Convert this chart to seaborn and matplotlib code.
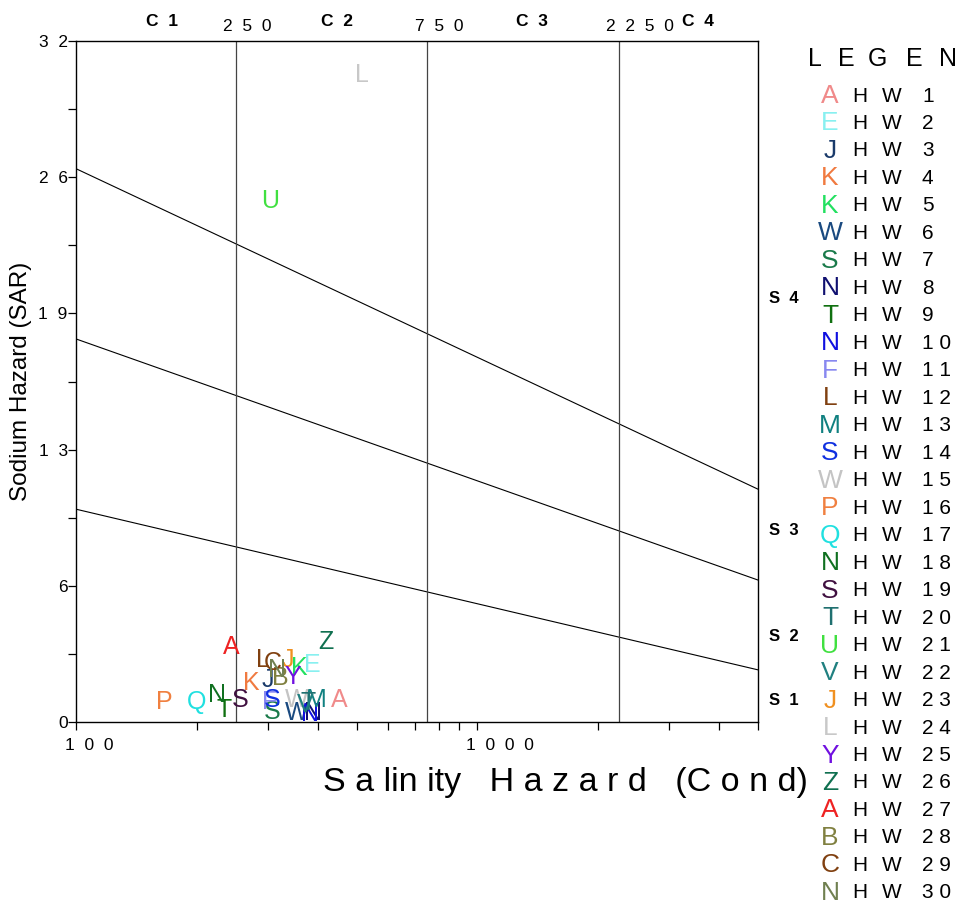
import numpy as np
import pandas as pd
import matplotlib
matplotlib.use("Agg")
import matplotlib.pyplot as plt
from matplotlib.ticker import FixedLocator, NullFormatter
import seaborn as sns

# samples HW1..HW30 : letter, colour, conductivity, SAR
letters = ["A", "E", "J", "K", "K", "W", "S", "N", "T", "N",
           "F", "L", "M", "S", "W", "P", "Q", "N", "S", "T",
           "U", "V", "J", "L", "Y", "Z", "A", "B", "C", "N"]
colors = ["#f08a8a", "#88f0f0", "#1a3a6a", "#f07a40", "#22e060", "#1a4a80",
          "#1a7a4a", "#101070", "#107010", "#1010e0", "#8888f0", "#804010",
          "#108080", "#1030e0", "#c4c4c4", "#f08040", "#20e0e0", "#107020",
          "#401040", "#207070", "#40e040", "#208080", "#f09020", "#c8c8c8",
          "#7010e0", "#107050", "#ee2222", "#808040", "#804010", "#708050"]
cond = [454, 387, 300, 274, 361, 355, 309, 389, 234, 383,
        304, 292, 398, 309, 355, 166, 200, 224, 256, 378,
        304, 372, 337, 516, 347, 419, 244, 322, 309, 316]
sar = [1.03, 2.68, 1.97, 1.83, 2.54, 0.42, 0.47, 0.42, 0.56, 0.38,
       0.94, 2.91, 1.03, 1.03, 1.03, 0.94, 0.94, 1.27, 1.03, 0.89,
       24.5, 0.8, 2.91, 30.4, 2.11, 3.76, 3.52, 2.07, 2.77, 2.44]

# hazard class boundaries
c_bounds = [250, 750, 2250]
c_labels = ["C  1", "C  2", "C  3", "C  4"]
c_label_x = [164, 448, 1365, 3548]
s_labels = ["S  1", "S  2", "S  3", "S  4"]
s_label_y = [1.0, 4.0, 8.98, 19.9]
line_ec = [100, 5000]
line_left = [10.0, 18.0, 26.0]
line_right = [2.45, 6.67, 10.94]

yticks = [0, 6.4, 12.8, 19.2, 25.6, 32]
ytick_labels = ["0", "6", "1  3", "1  9", "2  6", "3  2"]
xticks = [100, 1000]
xtick_labels = ["1  0  0", "1  0  0  0"]
legend_title = ["L", "E", "G", "E", "N", "D"]
legend_title_x = [808, 838, 868, 906, 939, 975]


def spaced(s, sep="  "):
    return sep.join(str(s))


sns.set_style("ticks")
plt.rcParams["font.family"] = ["Liberation Sans", "DejaVu Sans"]
plt.rcParams["text.color"] = "black"
plt.rcParams["axes.labelcolor"] = "black"
plt.rcParams["xtick.color"] = "black"
plt.rcParams["ytick.color"] = "black"

fig = plt.figure(figsize=(9.6, 9.09), dpi=100)
ax = fig.add_axes([76 / 960, 187 / 909, 682 / 960, 681 / 909])

lines = pd.DataFrame({
    "ec": line_ec * 3,
    "sar": [v for pair in zip(line_left, line_right) for v in pair],
    "grp": [0, 0, 1, 1, 2, 2],
})
sns.lineplot(data=lines, x="ec", y="sar", units="grp", estimator=None,
             color="black", lw=0.8, ax=ax)
for b in c_bounds:
    ax.axvline(b, color="#444444", lw=0.9)

ax.set_xscale("log")
ax.set_xlim(100, 5000)
ax.set_ylim(0, 32)

for i in range(30):
    ax.text(cond[i], sar[i], letters[i], color=colors[i], fontsize=18,
            ha="center", va="center")

ax.set_xticks(xticks)
ax.set_xticklabels(["", ""])
ax.xaxis.set_minor_locator(FixedLocator([200, 300, 400, 500, 600, 700, 800, 900,
                                         2000, 3000, 4000, 5000]))
ax.xaxis.set_minor_formatter(NullFormatter())
xt = ax.get_xaxis_transform()
for x, t in zip(xticks, xtick_labels):
    ax.annotate(t, xy=(x, 0), xycoords=xt, xytext=(-8, -17),
                textcoords="offset points", fontsize=12.5,
                ha="left", va="center")
ax.set_yticks(yticks)
ax.set_yticklabels(ytick_labels, fontsize=12.5)
ax.yaxis.set_minor_locator(FixedLocator([3.2, 9.6, 16.0, 22.4, 28.8]))
ax.tick_params(which="both", direction="out", length=6, width=0.9, color="black")
ax.tick_params(axis="y", pad=0)
for sp in ax.spines.values():
    sp.set_color("black")
    sp.set_linewidth(1.0)

ax.set_xlabel("")
ax.set_ylabel("Sodium Hazard (SAR)", fontsize=17.5)
ax.yaxis.set_label_coords(-0.064, 0.5)
fig.text(565 / 960, 1 - 782 / 909, "S a lin ity   H a z a r d   (C o n d)",
         fontsize=24.5, ha="center", va="center")

# top labels
for x, t in zip(c_label_x, c_labels):
    ax.text(x, 1.028, t, transform=xt, fontsize=12.5, fontweight="bold",
            ha="center", va="center")
for b in c_bounds:
    ax.annotate(spaced(b), xy=(b, 1.021), xycoords=xt,
                xytext=(-9, 0), textcoords="offset points",
                fontsize=12.5, ha="left", va="center")
yt = ax.get_yaxis_transform()
for y, t in zip(s_label_y, s_labels):
    ax.text(1.016, y, t, transform=yt, fontsize=12, fontweight="bold",
            ha="left", va="center")

# legend drawn as text
for x, t in zip(legend_title_x, legend_title):
    fig.text(x / 960, 1 - 59 / 909, t, fontsize=18, ha="left", va="center")
for i in range(30):
    yy = 1 - (96 + i * 27.48) / 909
    fig.text(830 / 960, yy, letters[i], color=colors[i], fontsize=19,
             ha="center", va="center")
    fig.text(852 / 960, yy, "H", fontsize=15, ha="left", va="center")
    fig.text(882 / 960, yy, "W", fontsize=15, ha="left", va="center")
    fig.text(922 / 960, yy, spaced(i + 1, " "), fontsize=15,
             ha="left", va="center")

fig.savefig("out.png", dpi=100)
